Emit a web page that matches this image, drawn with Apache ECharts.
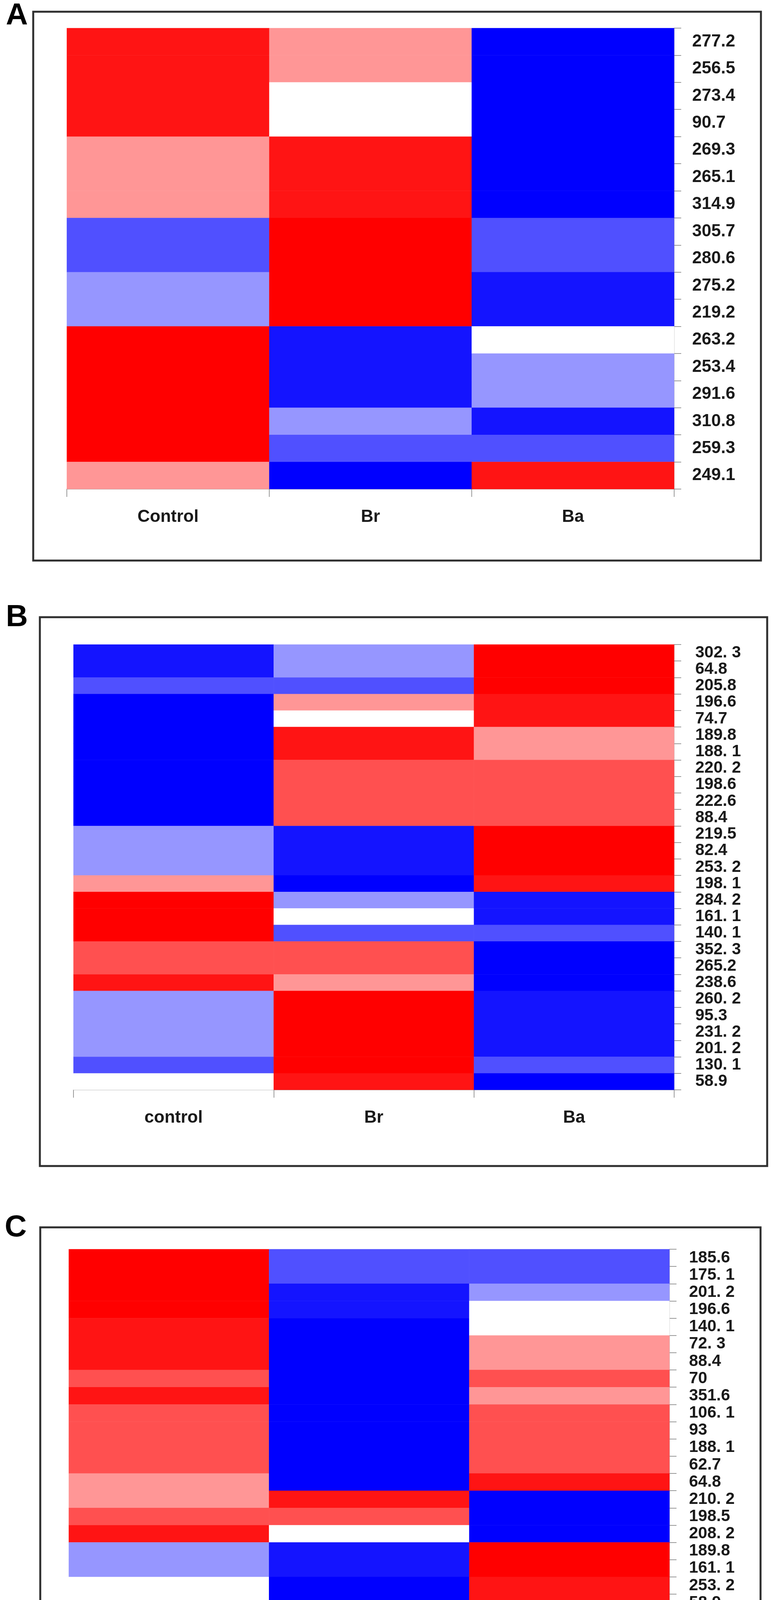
<!DOCTYPE html>
<html>
<head>
<meta charset="utf-8">
<title>Heatmap A B C</title>
<script src="https://cdn.jsdelivr.net/npm/echarts@6/dist/echarts.min.js"></script>
<style>
    body { margin: 0; background: #fff; }
    #main { width: 1983px; height: 4559px; }
</style>
</head>
<body>
<div id="main"></div>
<script>
// level codes: -4 deep blue ... 0 white ... 4 deep red
var groupsA = ['Control', 'Br', 'Ba'];
var rowsA = ['277.2', '256.5', '273.4', '90.7', '269.3', '265.1', '314.9', '305.7', '280.6',
    '275.2', '219.2', '263.2', '253.4', '291.6', '310.8', '259.3', '249.1'];
var controlA = [3, 3, 3, 3, 1, 1, 1, -2, -2, -1, -1, 4, 4, 4, 4, 4, 1];
var brA = [1, 1, 0, 0, 3, 3, 3, 4, 4, 4, 4, -3, -3, -3, -1, -2, -4];
var baA = [-4, -4, -4, -4, -4, -4, -4, -2, -2, -3, -3, 0, -1, -1, -3, -2, 3];

var groupsB = ['control', 'Br', 'Ba'];
var rowsB = ['302. 3', '64.8', '205.8', '196.6', '74.7', '189.8', '188. 1', '220. 2', '198.6',
    '222.6', '88.4', '219.5', '82.4', '253. 2', '198. 1', '284. 2', '161. 1', '140. 1',
    '352. 3', '265.2', '238.6', '260. 2', '95.3', '231. 2', '201. 2', '130. 1', '58.9'];
var controlB = [-3, -3, -2, -4, -4, -4, -4, -4, -4, -4, -4, -1, -1, -1, 1, 4, 4, 4, 2, 2, 3, -1, -1, -1, -1, -2, 0];
var brB = [-1, -1, -2, 1, 0, 3, 3, 2, 2, 2, 2, -3, -3, -3, -4, -1, 0, -2, 2, 2, 1, 4, 4, 4, 4, 4, 3];
var baB = [4, 4, 4, 3, 3, 1, 1, 2, 2, 2, 2, 4, 4, 4, 3, -3, -3, -2, -4, -4, -4, -3, -3, -3, -3, -2, -4];

var groupsC = ['Control', 'Br', 'Ba'];
var rowsC = ['185.6', '175. 1', '201. 2', '196.6', '140. 1', '72. 3', '88.4', '70', '351.6',
    '106. 1', '93', '188. 1', '62.7', '64.8', '210. 2', '198.5', '208. 2', '189.8', '161. 1',
    '253. 2', '58.9', '60. 2', '215.8', '130. 1', '156. 1', '95.3'];
var controlC = [4, 4, 4, 4, 3, 3, 3, 2, 3, 2, 2, 2, 2, 1, 1, 2, 3, -1, -1, 0, 0, -1, -2, -1, -2, -4];
var brC = [-2, -2, -3, -3, -4, -4, -4, -4, -4, -4, -4, -4, -4, -4, 3, 2, 0, -3, -3, -4, -4, -3, -2, -3, -2, 2];
var baC = [-2, -2, -1, 0, 0, 1, 1, 2, 1, 2, 2, 2, 2, 3, -4, -4, -4, 4, 4, 3, 3, 4, 4, 4, 4, 2];

var levels = [-4, -3, -2, -1, 0, 1, 2, 3, 4];
var palette = ['#0000ff', '#1414ff', '#5050ff', '#9696ff', '#ffffff', '#ff9696', '#ff5050', '#ff1414', '#ff0000'];

var labelFont = '"Liberation Sans", Arial, sans-serif';

function buildCells(cols) {
    var out = [];
    for (var i = 0; i < cols.length; i++) {
        for (var j = 0; j < cols[i].length; j++) {
            out.push([i, j, cols[i][j]]);
        }
    }
    return out;
}

function makeX(idx, groups) {
    return {
        type: 'category',
        gridIndex: idx,
        data: groups,
        position: 'bottom',
        axisLine: { show: true, lineStyle: { color: '#a8a8a8', width: 2 } },
        axisTick: { show: true, length: 20, lineStyle: { color: '#999', width: 2 } },
        axisLabel: { margin: 50, fontSize: 44, fontWeight: 'bold', color: '#1a1a1a', fontFamily: labelFont },
        splitLine: { show: false }
    };
}

function makeY(idx, rows, margin, size) {
    return {
        type: 'category',
        gridIndex: idx,
        data: rows,
        inverse: true,
        position: 'right',
        axisLine: { show: true, lineStyle: { color: '#c8c8c8', width: 2 } },
        axisTick: { show: true, length: 18, lineStyle: { color: '#999', width: 2 } },
        axisLabel: { interval: 0, margin: margin, fontSize: size, fontWeight: 'bold', color: '#1a1a1a', fontFamily: labelFont },
        splitLine: { show: false }
    };
}

function makeSeries(idx, cols) {
    return {
        type: 'heatmap',
        xAxisIndex: idx,
        yAxisIndex: idx,
        data: buildCells(cols),
        itemStyle: { borderWidth: 0 },
        emphasis: { disabled: true },
        silent: true
    };
}

function panelBox(l, t, r, b) {
    return {
        type: 'rect',
        shape: { x: l, y: t, width: r - l, height: b - t },
        style: { fill: 'none', stroke: '#2e2e2e', lineWidth: 5 },
        z: 10
    };
}

function panelLetter(txt, x, y) {
    return {
        type: 'text',
        x: x,
        y: y,
        style: { text: txt, font: 'bold 78px "Liberation Sans", Arial, sans-serif', fill: '#000', textAlign: 'left', textVerticalAlign: 'middle' },
        z: 10
    };
}

var pieces = [];
for (var k = 0; k < levels.length; k++) {
    pieces.push({ value: levels[k], color: palette[k] });
}

var myChart = echarts.init(document.getElementById('main'), null, { renderer: 'canvas' });
var option = {
    backgroundColor: '#fff',
    animation: false,
    grid: [
        { left: 171, top: 72, width: 1554, height: 1180 },
        { left: 188, top: 1650, width: 1537, height: 1140 },
        { left: 176, top: 3198, width: 1537, height: 1148 }
    ],
    xAxis: [makeX(0, groupsA), makeX(1, groupsB), makeX(2, groupsC)],
    yAxis: [makeY(0, rowsA, 46, 44), makeY(1, rowsB, 54, 42), makeY(2, rowsC, 50, 42)],
    visualMap: {
        type: 'piecewise',
        show: false,
        seriesIndex: [0, 1, 2],
        pieces: pieces
    },
    series: [
        makeSeries(0, [controlA, brA, baA]),
        makeSeries(1, [controlB, brB, baB]),
        makeSeries(2, [controlC, brC, baC])
    ],
    graphic: [
        panelBox(85, 30, 1947, 1435),
        panelBox(102, 1580, 1963, 2985),
        panelBox(103, 3142, 1946, 4541),
        panelLetter('A', 15, 41),
        panelLetter('B', 15, 1581),
        panelLetter('C', 12, 3143)
    ]
};
myChart.setOption(option);
</script>
</body>
</html>
